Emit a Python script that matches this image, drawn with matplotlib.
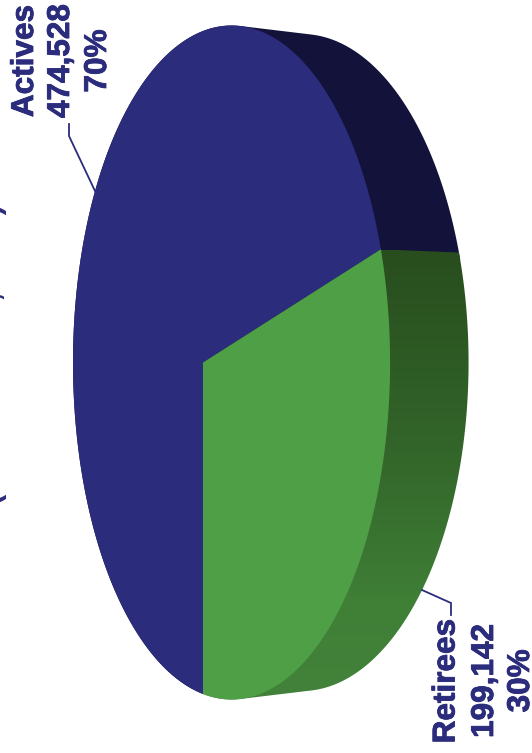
import numpy as np
import matplotlib
matplotlib.use("Agg")
import matplotlib.pyplot as plt
import matplotlib.patheffects as pe
from matplotlib.colors import LinearSegmentedColormap
from matplotlib.patches import Polygon

categories = ["Actives", "Retirees"]
members = [474528, 199142]
percent_labels = ["70%", "30%"]
count_labels = ["474,528", "199,142"]
title_text = "(December 31, 2006)"

plt.rcParams['font.family'] = ['Liberation Sans', 'DejaVu Sans']

NAVY = "#2b2c7c"
GREEN = "#4f9f47"
NAVY_SIDE = "#12123a"

# centre of the pie in picture pixels
CX, CY = 203, 362.5


# perspective view of the pie, w=0 is the top face and w=1 the bottom one
def project(u, v, w=0.0):
    d = 1 - 0.18 * u + 0.025 * w
    x = (153.4 * u + 71 * w) / d
    y = -331.5 * v / d
    return CX + x, CY + y


def arc(t0, t1, w=0.0, n=300):
    t = np.linspace(t0, t1, n)
    return project(np.cos(t), np.sin(t), w)


# outline of a slice's side, convex hull of its top and bottom arcs
def side_points(t0, t1):
    xa, ya = arc(t0, t1, 0)
    xb, yb = arc(t0, t1, 1)
    pts = sorted(zip(np.r_[xa, xb], np.r_[ya, yb]))

    def half(points):
        h = []
        for p in points:
            while len(h) > 1 and (h[-1][0] - h[-2][0]) * (p[1] - h[-2][1]) - (h[-1][1] - h[-2][1]) * (p[0] - h[-2][0]) <= 0:
                h.pop()
            h.append(p)
        return h[:-1]

    return np.array(half(pts) + half(pts[::-1]))


fig = plt.figure(figsize=(5.32, 7.53), dpi=100)
ax = fig.add_axes([0, 0, 1, 1])

# slice angles, retirees run from straight down towards the upper right
total = sum(members)
start = -np.pi / 2
green_end = start + 2 * np.pi * members[1] / total

# navy side, the green one is painted over it
navy_side = Polygon(side_points(green_end - 0.02, start + 2 * np.pi), closed=True, fc=NAVY_SIDE, lw=0, zorder=1)
ax.add_patch(navy_side)

# green side gets lighter going down the page
side_cmap = LinearSegmentedColormap.from_list(
    "side", [(0.0, "#284d1e"), (0.45, "#33662a"), (0.78, "#3f7f36"), (1.0, "#42823a")])
grad = np.linspace(0, 1, 256).reshape(-1, 1)
green_side = Polygon(side_points(start, green_end), closed=True, fc="none", lw=0, transform=ax.transData)
ax.add_patch(green_side)
im = ax.imshow(grad, cmap=side_cmap, extent=(0, 532, 702, 250), aspect="auto", zorder=1.5)
im.set_clip_path(green_side)

# top face
x, y = arc(green_end, start + 2 * np.pi)
ax.fill(np.r_[CX, x], np.r_[CY, y], color=NAVY, lw=0, zorder=2)
x, y = arc(start, green_end)
ax.fill(np.r_[CX, x], np.r_[CY, y], color=GREEN, lw=0, zorder=2.1)

# leader lines
line_x = [[69, 69, 95], [451, 451, 422]]
line_y = [[124, 136, 191], [615, 603, 590]]
for lx, ly in zip(line_x, line_y):
    ax.plot(lx, ly, color=NAVY, lw=1.3, zorder=3, solid_joinstyle="miter")

bold = [pe.withStroke(linewidth=0.6, foreground=NAVY)]

# labels, rotated a quarter turn like the whole page
label_x = [[33, 69, 106], [454.5, 493, 529]]
label_y = [61, 681]
for i in range(2):
    lines = [categories[i], count_labels[i], percent_labels[i]]
    for tx, s in zip(label_x[i], lines):
        ax.text(tx, label_y[i], s, rotation=90, rotation_mode="anchor", ha="center", va="baseline",
                fontsize=22.7, fontweight="bold", color=NAVY, path_effects=bold)

# title is cut off by the left edge of the page
ax.text(0.5, 354, title_text, rotation=90, rotation_mode="anchor", ha="center", va="baseline",
        fontsize=22.3, fontweight="bold", color=NAVY)

ax.set_xlim(0, 532)
ax.set_ylim(753, 0)
ax.axis("off")

fig.savefig("out.png", dpi=100)
